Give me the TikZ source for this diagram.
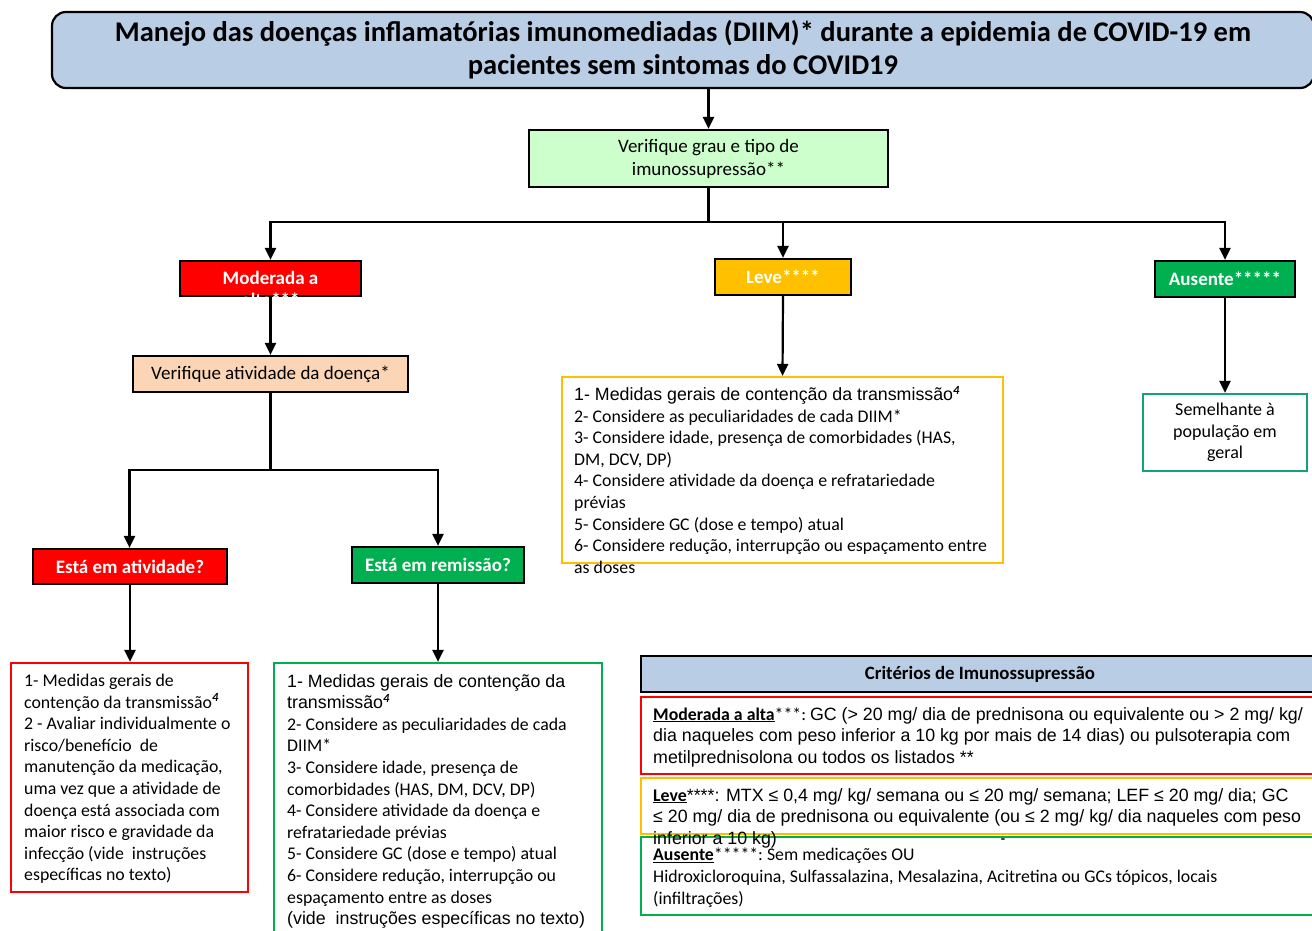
\documentclass[tikz,border=0pt]{standalone}
\usepackage{fontspec}
\setmainfont{Carlito}
\newfontfamily\arial{Liberation Sans}
\usetikzlibrary{arrows.meta}
\definecolor{titleblue}{RGB}{185,205,229}
\definecolor{lgreen}{RGB}{204,255,204}
\definecolor{peach}{RGB}{251,213,181}
\definecolor{mred}{RGB}{255,0,0}
\definecolor{morange}{RGB}{255,192,0}
\definecolor{mgreen}{RGB}{0,176,80}
\definecolor{teal2}{RGB}{20,160,120}
\newcommand{\tri}{\textsuperscript{\textbf{\textit{4}}}}
\begin{document}
\begin{tikzpicture}[x=1pt,y=-1pt,
  box/.style={draw=black, line width=2.2pt, inner sep=0pt},
  colbox/.style={box, text=white, font=\bfseries\fontsize{19}{22}\selectfont},
  txtbox/.style={draw, line width=2.2pt, inner sep=0pt, fill=white},
  body/.style={inner sep=0pt, align=left, anchor=north west, font=\fontsize{17.8}{21.6}\selectfont},
  arr/.style={line width=2.2pt, -{Triangle[length=12pt,width=11pt]}},
  ln/.style={line width=2.2pt}]
\useasboundingbox (0,0) rectangle (1312,931);
\fill[white] (0,0) rectangle (1312,931);
% title
\node[box, fill=titleblue, rounded corners=14pt, minimum width=1262pt, minimum height=76pt,
  align=center, font=\bfseries\fontsize{28.5}{33}\selectfont] (title) at (683,50)
  {Manejo das doenças inflamatórias imunomediadas (DIIM)* durante a epidemia de COVID-19 em\\pacientes sem sintomas do COVID19};
% verify
\node[box, fill=lgreen, minimum width=359pt, minimum height=57pt, align=center,
  font=\fontsize{19}{23}\selectfont] (ver) at (708.5,158.5)
  {Verifique grau e tipo de\\imunossupressão**};
\draw[arr] (title.south -| ver.north) -- (ver.north);
% branch 1
\coordinate (b1) at (708.5,222);
\coordinate (b1l) at (270.5,222);
\coordinate (b1m) at (783,222);
\coordinate (b1r) at (1225,222);
\node[colbox, fill=mred, minimum width=181pt, minimum height=35pt] (mod) at (270.5,278.5) {};
\node[inner sep=0pt, text=white, align=center, font=\bfseries\fontsize{19}{22}\selectfont] (modt) at (270.5,289) {Moderada a\\alta***};
\node[colbox, fill=morange, minimum width=136pt, minimum height=36pt] (lev) at (783,277) {Leve****};
\node[colbox, fill=mgreen, minimum width=140pt, minimum height=36pt] (aus) at (1225,279) {Ausente*****};
\draw[ln] (ver.south) -- (b1);
\draw[ln, line cap=rect] (b1l) -- (b1r);
\draw[arr] (b1l) -- (mod.north);
\draw[arr] (b1m) -- (lev.north);
\draw[arr] (b1r) -- (aus.north);
% moderada branch
\node[box, fill=peach, minimum width=275pt, minimum height=36pt, font=\fontsize{19}{22}\selectfont] (vat) at (270.5,374) {Verifique atividade da doença*};
\draw[arr] (mod.south) -- (vat.north);
\coordinate (b2) at (270.5,470);
\coordinate (b2l) at (129.5,470);
\coordinate (b2r) at (438,470);
\node[colbox, fill=mred, minimum width=194pt, minimum height=35pt] (atv) at (130,566.5) {Está em atividade?};
\node[colbox, fill=mgreen, minimum width=172pt, minimum height=36pt] (rem) at (438,565) {Está em remissão?};
\draw[ln] (vat.south) -- (b2);
\draw[ln, line cap=rect] (b2l) -- (b2r);
\draw[arr] (b2l) -- (b2l |- atv.north);
\draw[arr] (b2r) -- (rem.north);
% red box
\node[txtbox, draw=mred, minimum width=237pt, minimum height=229pt] (rbox) at (129.5,777.5) {};
\draw[arr] (atv.south) -- (rbox.north -| atv.south);
\node[body] (rtxt) at (24,674) {1- Medidas gerais de\\contenção da transmissão\tri\\2 - Avaliar individualmente o\\risco/benefício\ \ de\\manutenção da medicação,\\uma vez que a atividade de\\doença está associada com\\maior risco e gravidade da\\infecção (vide\ \ instruções\\específicas no texto)};
% green box
\node[txtbox, draw=mgreen, minimum width=328pt, minimum height=272pt] (gbox) at (438,799) {};
\draw[arr] (rem.south) -- (gbox.north);
\node[body] (gtxt) at (287,674) {{\arial 1- Medidas gerais de contenção da}\\{\arial transmissão}\tri\\2- Considere as peculiaridades de cada\\DIIM*\\3- Considere idade, presença de\\comorbidades (HAS, DM, DCV, DP)\\4- Considere atividade da doença e\\refratariedade prévias\\5- Considere GC (dose e tempo) atual\\6- Considere redução, interrupção ou\\espaçamento entre as doses\\{\arial (vide\ \ instruções específicas no texto)}};
% leve box
\node[txtbox, draw=morange, minimum width=441pt, minimum height=186pt] (lbox) at (782.5,470) {};
\draw[arr] (lev.south) -- (lbox.north);
\node[body] (ltxt) at (574,386) {{\arial 1- Medidas gerais de contenção da transmissão}\tri\\2- Considere as peculiaridades de cada DIIM*\\3- Considere idade, presença de comorbidades (HAS,\\DM, DCV, DP)\\4- Considere atividade da doença e refratariedade\\prévias\\5- Considere GC (dose e tempo) atual\\6- Considere redução, interrupção ou espaçamento entre\\as doses};
% ausente box
\node[txtbox, draw=teal2, minimum width=164pt, minimum height=77pt, align=center, font=\fontsize{18}{21.6}\selectfont] (sbox) at (1225,432.5) {Semelhante à\\população em\\geral};
\draw[arr] (aus.south) -- (sbox.north);
% criteria
\node[box, fill=titleblue, minimum width=679pt, minimum height=36pt] (crh) at (980.5,674) {};
\node[inner sep=0pt, font=\bfseries\fontsize{18.8}{22}\selectfont] (crht) at (980,674) {Critérios de Imunossupressão};
\node[txtbox, draw=mred, minimum width=679pt, minimum height=77pt] (crr) at (980.5,735.5) {};
\node[body] (crrt) at (653,707) {\underline{\textbf{Moderada a alta}}***:\ {\arial GC (> 20 mg/ dia de prednisona ou equivalente ou > 2 mg/ kg/}\\{\arial dia naqueles com peso inferior a 10 kg por mais de 14 dias) ou pulsoterapia com}\\{\arial metilprednisolona ou todos os listados **}};
\node[txtbox, draw=morange, minimum width=679pt, minimum height=56pt] (cro) at (980.5,806) {};
\node[txtbox, draw=mgreen, fill=none, minimum width=679pt, minimum height=78pt] (crg) at (980.5,876) {};
\node[body] (crot) at (653,788) {\underline{\textbf{Leve}}{\arial ****: MTX ≤ 0,4 mg/ kg/ semana ou ≤ 20 mg/ semana; LEF ≤ 20 mg/ dia; GC}\\{\arial ≤ 20 mg/ dia de prednisona ou equivalente (ou ≤ 2 mg/ kg/ dia naqueles com peso}\\{\arial inferior a 10 kg)}};
\node[body] (crgt) at (653,848) {\underline{\textbf{Ausente}}*****:\ Sem medicações OU\\Hidroxicloroquina, Sulfassalazina, Mesalazina, Acitretina ou GCs tópicos, locais\\(infiltrações)};
\node[inner sep=0pt, font=\bfseries\fontsize{14}{14}\selectfont] (dash) at (1003,841) {-};
\end{tikzpicture}
\end{document}
